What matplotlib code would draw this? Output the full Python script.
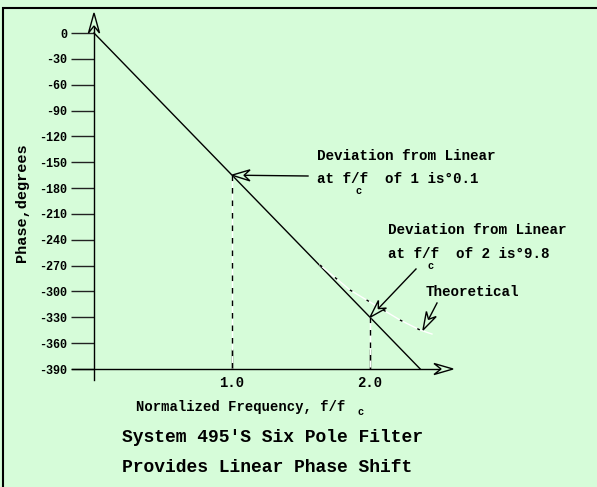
import matplotlib
matplotlib.use('Agg')
import numpy as np
import matplotlib.pyplot as plt
from matplotlib.patches import Rectangle, Polygon
from matplotlib.lines import Line2D

# ---- data ----
freq_line = [0.0, 2.364]
phase_line = [0.0, -390.0]
theo_freq = [1.638, 1.855, 2.072, 2.217, 2.362, 2.449]
theo_phase = [-269.3, -298.3, -319.2, -333.1, -344.7, -349.4]
marker_freq = [1.0, 2.0]
marker_phase = [-165.0, -330.0]
yticks = list(range(0, -391, -30))
xticks = [1.0, 2.0]
xtick_labels = ['1.0', '2.0']

W, H = 597, 487
BG = '#d6fcd9'
FONT = 'Liberation Mono'
plt.rcParams['font.family'] = [FONT, 'DejaVu Sans']
plt.rcParams['font.weight'] = 'bold'

fig = plt.figure(figsize=(W / 100, H / 100), dpi=100, facecolor=BG)


def fx(px):
    return px / W


def fy(py):
    return 1 - py / H


X0, XS = 94, 138.0        # pixel of x=0, pixels per unit
Y0, YB = 33, 369          # pixel of y=0 and y=-390
ax = fig.add_axes([fx(X0), fy(YB), (453 - X0) / W, (YB - Y0) / H])
ax.set_facecolor('none')
ax.set_xlim(0, (453 - X0) / XS)
ax.set_ylim(-390, 0)
for s in ax.spines.values():
    s.set_visible(False)

YPX = 390.0 / (YB - Y0)   # degrees per pixel


def d(px, py):
    return ((px - X0) / XS, -(py - Y0) * YPX)


def to_px(pt):
    """data -> image pixel (x right, y down)"""
    x, y = pt
    return X0 + x * XS, Y0 - y / YPX


def chevron_arrow(tail, head, hl=18.0, hw=5.5, notch=6.0):
    tx, ty = to_px(tail)
    hx, hy = to_px(head)
    v = np.array([hx - tx, hy - ty])
    v = v / np.hypot(*v)
    n = np.array([-v[1], v[0]])
    tip = np.array([hx, hy])
    back = tip - v * hl
    left = back + n * hw
    right = back - n * hw
    nt = tip - v * (hl - notch)
    fig.add_artist(Line2D([fx(tx), fx(nt[0])], [fy(ty), fy(nt[1])], color='k', lw=1,
                          transform=fig.transFigure))
    pts = [tip, left, nt, right]
    fig.add_artist(Polygon([[fx(p[0]), fy(p[1])] for p in pts], closed=True,
                           fc=BG, ec='k', lw=1, transform=fig.transFigure, zorder=5))


# axes with arrows
chevron_arrow(d(X0, 380), d(X0, 13), hl=20, hw=5.5, notch=7)
chevron_arrow(d(72, YB), d(453, YB), hl=19, hw=5.5, notch=7)

# ticks
ax.set_yticks(yticks)
ax.set_yticklabels([str(t) for t in yticks])
ax.tick_params(axis='y', direction='out', length=16.5, width=1, pad=3, labelsize=8.5,
               color='#222222')
ax.set_xticks(xticks)
ax.set_xticklabels(xtick_labels)
ax.tick_params(axis='x', direction='in', length=14.4, width=1, pad=5, labelsize=10)
for lbl in ax.get_xticklabels() + ax.get_yticklabels():
    lbl.set_fontweight('bold')

# main line
ax.plot(freq_line, phase_line, color='k', lw=1, clip_on=False)

# marker verticals
for f, p in zip(marker_freq, marker_phase):
    ax.plot([f, f], [p, -390], color='white', lw=1)
    ax.plot([f, f], [p, -390], color='k', lw=1, dashes=(4, 5))

# theoretical curve
ax.plot(theo_freq, theo_phase, color='white', lw=1, clip_on=False)
ax.plot(theo_freq, theo_phase, color='k', lw=1, dashes=(2, 12), clip_on=False)

# annotation arrows
chevron_arrow(d(308, 176), (marker_freq[0], marker_phase[0]))
chevron_arrow(d(416, 269), (marker_freq[1], marker_phase[1]))
chevron_arrow(d(437, 303), d(423, 330))


def T(px, py, s, size, **kw):
    fig.text(fx(px), fy(py), s, fontsize=size, fontweight='bold', va='center',
             ha=kw.pop('ha', 'left'), **kw)


T(317, 156, 'Deviation from Linear', 10.3)
T(317, 179, 'at f/f  of 1 is\u00b00.1', 10.3)
T(356, 191, 'c', 7.5)
T(388, 230, 'Deviation from Linear', 10.3)
T(388, 254, 'at f/f  of 2 is\u00b09.8', 10.3)
T(427, 266, 'c', 7.5)
T(426, 292, 'Theoretical', 10.3)

T(136, 407, 'Normalized Frequency, f/f', 10)
T(357, 412, 'c', 7.5)
T(122, 437, "System 495'S Six Pole Filter", 13)
T(122, 468, 'Provides Linear Phase Shift', 13)

fig.text(fx(22), fy(203), 'Phase,degrees', rotation=90, fontsize=11, fontweight='bold',
         ha='center', va='center')

fig.patches.append(Rectangle((fx(3), -0.1), 1.0, fy(8) + 0.1, transform=fig.transFigure,
                             fill=False, ec='k', lw=1.5))

fig.savefig('out.png', dpi=100, facecolor=BG)
